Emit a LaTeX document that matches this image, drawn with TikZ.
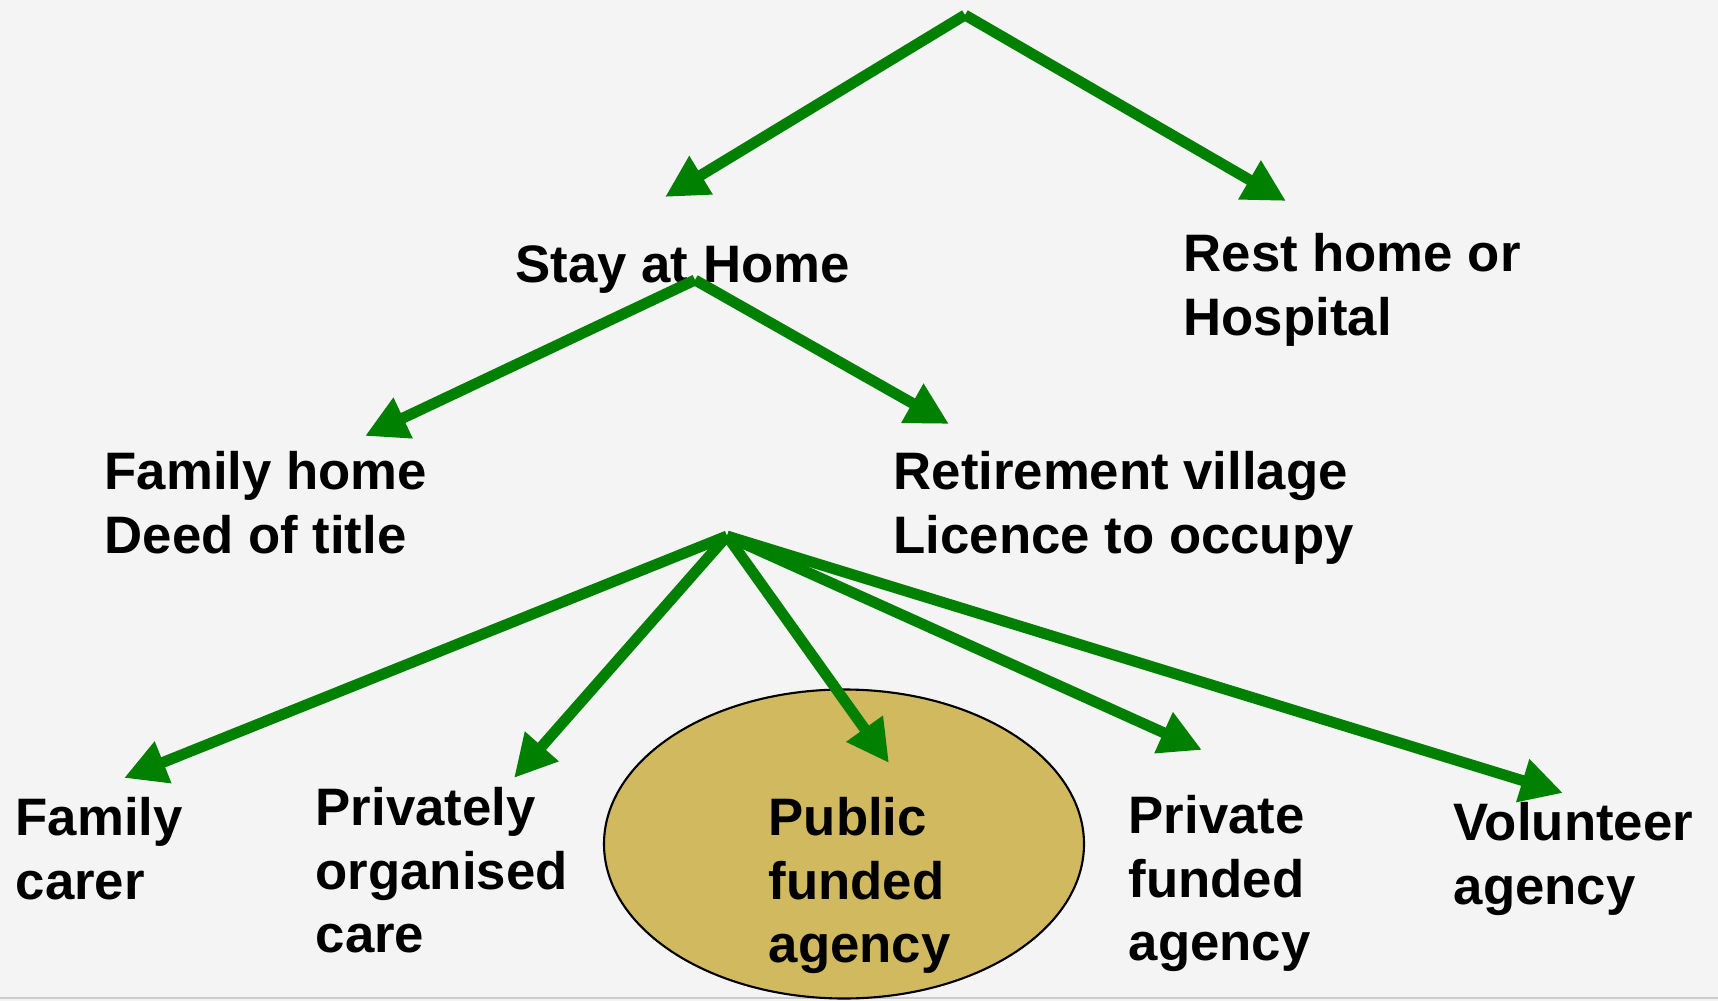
\documentclass[tikz,border=0pt]{standalone}
\usepackage{fontspec}
\setmainfont{Liberation Sans}
\usetikzlibrary{arrows.meta, shapes.geometric}
\definecolor{arrowgreen}{RGB}{0,128,0}
\definecolor{ovalfill}{RGB}{208,185,94}
\definecolor{paper}{RGB}{244,244,244}

\begin{document}
\begin{tikzpicture}[x=0.1mm,y=-0.1mm,>={Triangle[length=12pt,width=12pt]},
  arr/.style={->,color=arrowgreen,line width=3.1pt},
  txt/.style={anchor=north west,inner sep=0pt,align=left,
    font=\bfseries\fontsize{15pt}{18pt}\selectfont}]

% page
  \fill[paper] (0,0) rectangle (1718,1001);
  \useasboundingbox (0,0) rectangle (1718,1001);
  \draw[black!20,line width=0.8pt] (0,998) -- (1718,998);

% the highlighted choice
  \node[ellipse,draw,fill=ovalfill,line width=0.6pt,inner sep=0pt,
    minimum width=48mm,minimum height=30.9mm] (oval) at (844,844) {};

% define the choices
  \node[txt] (stay)      at (515,245)  {Stay at Home};
  \node[txt] (rest)      at (1183,233) {Rest home or\\Hospital};
  \node[txt] (famhome)   at (104,451)  {Family home\\Deed of title};
  \node[txt] (retire)    at (893,451)  {Retirement village\\Licence to occupy};
  \node[txt] (carer)     at (15,797)   {Family\\carer};
  \node[txt] (privcare)  at (315,787)  {Privately\\organised\\care};
  \node[txt] (public)    at (768,797)  {Public\\funded\\agency};
  \node[txt] (privfund)  at (1128,795) {Private\\funded\\agency};
  \node[txt] (volunteer) at (1453,802) {Volunteer\\agency};

% forks
  \coordinate (top)      at (965,15);
  \coordinate (stayfork) at ([shift={(180,35)}]stay.north west);
  \coordinate (fan)      at (727,536);

% define the links
  \path[arr] (top) edge ([shift={(150,-48)}]stay.north west)
                   edge ([shift={(103,-32)}]rest.north west)
        (stayfork) edge ([shift={(261,-15)}]famhome.north west)
                   edge ([shift={(56,-27)}]retire.north west)
        (fan)      edge ([shift={(109,-19)}]carer.north west)
                   edge ([shift={(199,-9)}]privcare.north west)
                   edge ([shift={(121,-34)}]public.north west)
                   edge ([shift={(74,-45)}]privfund.north west)
                   edge ([shift={(110,-9)}]volunteer.north west);

\end{tikzpicture}
\end{document}
